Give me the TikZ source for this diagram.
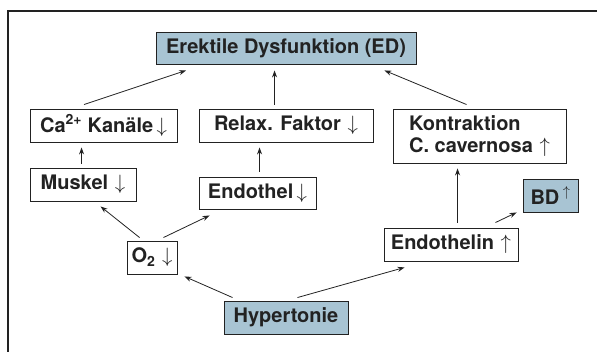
\documentclass[tikz,border=0pt]{standalone}
\usepackage{fontspec}
\setmainfont{TeX Gyre Heros}
\usetikzlibrary{arrows.meta}
\definecolor{boxblue}{HTML}{A8C4D3}
\definecolor{ink}{HTML}{222222}
\newcommand{\dnarr}{\,$\downarrow$}
\newcommand{\uparr}{\,$\uparrow$}
\begin{document}
\begin{tikzpicture}[x=1pt,y=-1pt,
  box/.style={draw=ink, line width=0.9pt, inner sep=0pt, font=\fontsize{20}{22}\selectfont\bfseries, text=ink},
  bluebox/.style={box, fill=boxblue},
  conn/.style={draw=ink, line width=0.8pt, -{Stealth[length=7pt,width=5pt]}}]
\useasboundingbox (0,0) rectangle (597,352);
\draw[ink, line width=1.3pt] (8,352) -- (8,11) -- (597,11);

\node[bluebox, minimum width=260pt, minimum height=32pt] (ed) at (286,48) {Erektile Dysfunktion (ED)};
\node[box, minimum width=147pt, minimum height=33pt] (ca) at (103.5,125.5) {Ca\textsuperscript{2+} Kanäle\dnarr};
\node[box, minimum width=174pt, minimum height=33pt] (rf) at (286,125.5) {Relax. Faktor\,\dnarr};
\node[box, minimum width=173pt, minimum height=54pt, align=left] (ko) at (479.5,136) {Kontraktion\\C. cavernosa\,\uparr};
\node[box, minimum width=106pt, minimum height=33pt] (mu) at (83,184.5) {Muskel\,\dnarr};
\node[box, minimum width=117pt, minimum height=32pt] (en) at (257.5,193) {Endothel\dnarr};
\node[bluebox, minimum width=55pt, minimum height=33pt] (bd) at (550.5,195.5) {BD\,\textsuperscript{$\uparrow$}};
\node[box, minimum width=50pt, minimum height=33pt] (o2) at (152,257.5) {O\textsubscript{2}\,\dnarr};
\node[box, minimum width=134pt, minimum height=33pt] (et) at (451,244.5) {Endothelin\,\uparr};
\node[bluebox, minimum width=124pt, minimum height=33pt] (hy) at (286,317.5) {Hypertonie};

\draw[conn] ([xshift=54.5pt,yshift=4pt]ca.north west) -- ([xshift=30.5pt,yshift=-6pt]ed.south west);
\draw[conn] ([xshift=76pt,yshift=4pt]rf.north west) -- ([xshift=119pt,yshift=-6pt]ed.south west);
\draw[conn] ([xshift=74pt,yshift=4pt]ko.north west) -- ([xshift=-32pt,yshift=-6pt]ed.south east);
\draw[conn] ([xshift=52pt,yshift=4pt]mu.north west) -- ([xshift=52pt,yshift=-5pt]ca.south west);
\draw[conn] ([xshift=61pt,yshift=5pt]en.north west) -- ([xshift=61pt,yshift=-5pt]rf.south west);
\draw[conn] ([xshift=13pt,yshift=3pt]o2.north west) -- ([xshift=71pt,yshift=-5pt]mu.south west);
\draw[conn] ([xshift=-14pt,yshift=3pt]o2.north east) -- ([xshift=11pt,yshift=-6pt]en.south west);
\draw[conn] ([xshift=9pt,yshift=3pt]hy.north west) -- ([xshift=7pt,yshift=-2pt]o2.south east);
\draw[conn] ([xshift=-51pt,yshift=3pt]hy.north east) -- ([xshift=21pt,yshift=-6pt]et.south west);
\draw[conn] ([xshift=74pt,yshift=5pt]et.north west) -- ([xshift=65pt,yshift=-5pt]ko.south west);
\draw[conn] ([xshift=-23pt,yshift=5pt]et.north east) -- ([xshift=-6pt,yshift=0pt]bd.south west);
\end{tikzpicture}
\end{document}
